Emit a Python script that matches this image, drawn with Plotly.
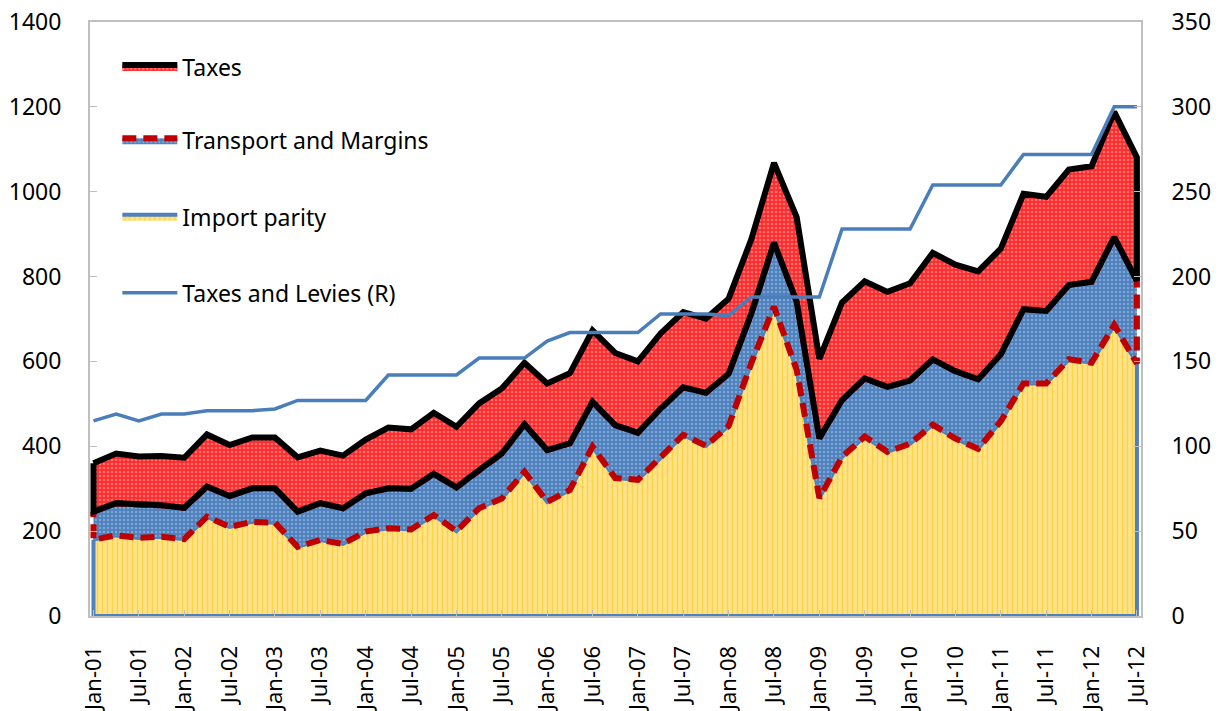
import plotly.graph_objects as go

# Quarterly data, Jan-01 .. Jul-12 (47 quarters)
quarters = list(range(47))
tick_labels = ["Jan-01", "Jul-01", "Jan-02", "Jul-02", "Jan-03", "Jul-03", "Jan-04", "Jul-04",
               "Jan-05", "Jul-05", "Jan-06", "Jul-06", "Jan-07", "Jul-07", "Jan-08", "Jul-08",
               "Jan-09", "Jul-09", "Jan-10", "Jul-10", "Jan-11", "Jul-11", "Jan-12", "Jul-12"]

import_parity = [180, 190, 184, 187, 181, 234, 210, 222, 220, 163, 179, 170, 199, 207, 204, 238,
                 200, 254, 277, 340, 269, 297, 399, 325, 321, 372, 427, 401, 448, 596, 729, 580,
                 278, 375, 423, 387, 406, 451, 418, 394, 459, 548, 548, 605, 597, 686, 595]
transport_margins = [66, 76, 78, 74, 74, 71, 73, 79, 81, 83, 87, 84, 90, 94, 96, 97,
                     103, 90, 106, 112, 122, 110, 106, 125, 111, 117, 112, 125, 123, 117, 151, 161,
                     141, 134, 137, 153, 149, 154, 159, 164, 158, 175, 171, 175, 191, 207, 195]
taxes = [114, 117, 114, 116, 118, 123, 120, 120, 120, 128, 124, 124, 127, 143, 140, 144,
         143, 157, 153, 145, 157, 165, 168, 170, 168, 177, 177, 175, 177, 175, 188, 199,
         187, 230, 229, 224, 229, 251, 251, 254, 249, 272, 269, 272, 272, 295, 291]
levies_r = [115, 119, 115, 119, 119, 121, 121, 121, 122, 127, 127, 127, 127, 142, 142, 142,
            142, 152, 152, 152, 162, 167, 167, 167, 167, 178, 178, 178, 177, 188, 188, 188,
            188, 228, 228, 228, 228, 254, 254, 254, 254, 272, 272, 272, 272, 300, 300]

mid = [a + b for a, b in zip(import_parity, transport_margins)]
total = [m + t for m, t in zip(mid, taxes)]

FONT = "Noto Sans"
rev = quarters[::-1]

fig = go.Figure()

# Import parity polygon (closed, with border all round)
fig.add_trace(go.Scatter(
    x=quarters + [quarters[-1], quarters[0], quarters[0]],
    y=import_parity + [0, 0, import_parity[0]],
    mode="lines", fill="toself", name="Import parity",
    line=dict(color="#4F81BD", width=4),
    fillcolor="#FFE38A",
    fillpattern=dict(shape="|", bgcolor="#FFE38A", fgcolor="#FFC000", size=5, solidity=0.3),
    legend="legend3", hoverinfo="skip"))

# Transport and Margins polygon
fig.add_trace(go.Scatter(
    x=quarters + rev + [quarters[0]],
    y=mid + import_parity[::-1] + [mid[0]],
    mode="lines", fill="toself", name="Transport and Margins",
    line=dict(color="#C00000", width=6, dash="14px,7px"),
    fillcolor="#4F81BD",
    fillpattern=dict(shape=".", bgcolor="#4F81BD", fgcolor="#A9C8EC", size=4, solidity=0.3),
    legend="legend2", hoverinfo="skip"))

# Taxes polygon
fig.add_trace(go.Scatter(
    x=quarters + rev + [quarters[0]],
    y=total + mid[::-1] + [total[0]],
    mode="lines", fill="toself", name="Taxes",
    line=dict(color="#000000", width=6),
    fillcolor="#FF2A2A",
    fillpattern=dict(shape=".", bgcolor="#FF2A2A", fgcolor="#FFC0C0", size=4, solidity=0.35),
    legend="legend", hoverinfo="skip"))

# Taxes and Levies (R)
fig.add_trace(go.Scatter(
    x=quarters, y=levies_r, yaxis="y2", mode="lines", name="Taxes and Levies (R)",
    line=dict(color="#4A7EBB", width=3.5), legend="legend4", hoverinfo="skip"))

leg_common = dict(x=0.026, xanchor="left", yanchor="middle", bgcolor="rgba(0,0,0,0)",
                  font=dict(family=FONT, size=23, color="#000000"), itemwidth=55)

# The page body adds an 8px offset; margins compensate so the plot area sits at
# x 90..1141, y 22..616 in the 1219x711 window.
fig.update_layout(
    width=1219, height=711,
    margin=dict(l=82, r=86, t=14, b=103, autoexpand=False),
    paper_bgcolor="white", plot_bgcolor="white",
    font=dict(family=FONT, size=22, color="#000000"),
    legend=dict(y=0.924, **leg_common),
    legend2=dict(y=0.801, **leg_common),
    legend3=dict(y=0.672, **leg_common),
    legend4=dict(y=0.544, **leg_common),
    xaxis=dict(
        range=[-0.154, 46.18], tickmode="array",
        tickvals=quarters[::2], ticktext=tick_labels, tickangle=-90,
        ticks="inside", ticklen=6, tickcolor="#BFBFBF",
        showline=True, linecolor="#BFBFBF", linewidth=2, mirror=True,
        showgrid=False, zeroline=False, ticklabelstandoff=19, automargin=False,
        ticklabeloverflow="allow",
        tickfont=dict(family=FONT, size=22)),
    yaxis=dict(
        range=[0, 1400], tickmode="array", tickvals=list(range(0, 1401, 200)),
        ticks="inside", ticklen=7, tickcolor="#BFBFBF",
        showline=True, linecolor="#BFBFBF", linewidth=2,
        showgrid=False, zeroline=False, ticklabelstandoff=22, automargin=False,
        ticklabeloverflow="allow",
        tickfont=dict(family=FONT, size=23)),
    yaxis2=dict(
        range=[0, 350], overlaying="y", side="right", tickmode="array",
        tickvals=list(range(0, 351, 50)),
        ticks="inside", ticklen=7, tickcolor="#BFBFBF",
        showline=True, linecolor="#BFBFBF", linewidth=2,
        showgrid=False, zeroline=False, ticklabelstandoff=24, automargin=False,
        ticklabeloverflow="allow",
        tickfont=dict(family=FONT, size=23)),
    showlegend=True,
)

fig.write_html("out.html")
